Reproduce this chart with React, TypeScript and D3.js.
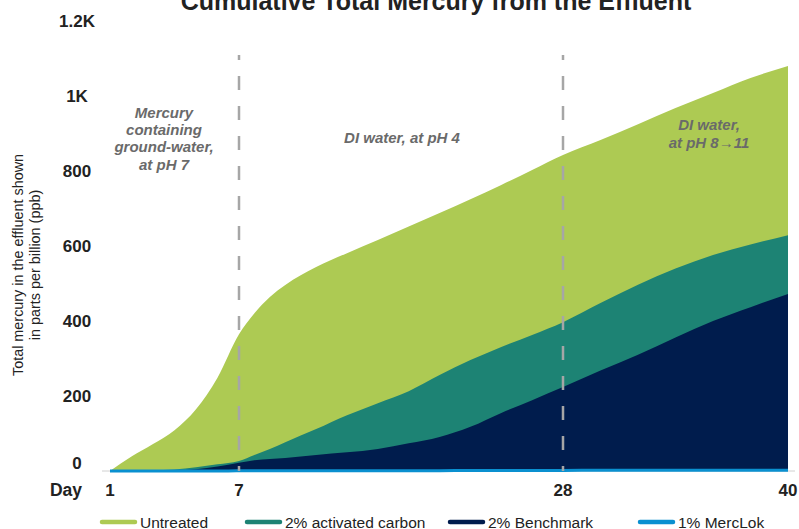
import React from "react";
import * as d3 from "d3";

const days = [1, 2, 3, 4, 5, 6, 7, 8, 9, 10, 12, 14, 16, 18, 20, 22, 24, 26, 28, 30, 32, 34, 36, 38, 40];
const untreated = [0, 39, 72, 109, 165, 249, 365, 421, 464, 496, 544, 581, 616, 652, 688, 725, 763, 803, 843, 883, 925, 968, 1008, 1048, 1080];
const activatedCarbon = [0, 1, 2, 4, 10, 18, 27, 43, 59, 77, 112, 149, 181, 213, 256, 296, 331, 363, 397, 448, 497, 540, 576, 604, 629];
const benchmark = [0, 0.5, 1, 2, 5, 12, 22, 29, 32, 35, 43, 50, 59, 74, 91, 118, 155, 189, 224, 268, 310, 356, 400, 437, 472];
const mercLok = [0, 0, 0, 0, 0, 0, 0.5, 0.5, 0.5, 1, 1, 1, 1, 1, 1, 1.5, 1.5, 1.5, 1.5, 2, 2, 2, 2, 2, 2];

const seriesNames = ["Untreated", "2% activated carbon", "2% Benchmark", "1% MercLok"];
const seriesColors = ["#adca53", "#1d8374", "#001c4d", "#0a90d0"];

const yTicks = [0, 200, 400, 600, 800, 1000, 1200];
const yTickLabels = ["0", "200", "400", "600", "800", "1K", "1.2K"];
const xTicks = [1, 7, 28, 40];
const phaseDays = [7, 28];

const FONT = "'Liberation Sans', Arial, sans-serif";

export default function App() {
  const W = 799, H = 529;
  const x = d3.scaleLinear().domain([1, 7, 28, 40]).range([110, 239, 563, 788]);
  const y = d3.scaleLinear().domain([0, 1200]).range([471, 21]);

  const area = (vals: number[]) =>
    d3.area<number>()
      .x((_, i) => x(days[i]))
      .y0(y(0))
      .y1((d) => y(d))
      .curve(d3.curveMonotoneX)(vals) as string;
  const line = d3.line<number>()
    .x((_, i) => x(days[i]))
    .y((d) => y(d))
    .curve(d3.curveMonotoneX);

  const areaSeries = [untreated, activatedCarbon, benchmark];
  const legendX = [100, 245, 448, 638];

  return (
    <svg width={W} height={H} style={{ position: "absolute", left: 0, top: 0, background: "#fff" }} fontFamily={FONT}>
      <text x={436} y={10} textAnchor="middle" fontSize={25} fontWeight="bold" fill="#222">
        Cumulative Total Mercury from the Effluent
      </text>

      {/* y axis title */}
      <g transform="translate(23,265) rotate(-90)">
        <text x={0} y={0} textAnchor="middle" fontSize={14.4} fill="#222">Total mercury in the effluent shown</text>
        <text x={0} y={17} textAnchor="middle" fontSize={14.4} fill="#222">in parts per billion (ppb)</text>
      </g>

      {/* y ticks */}
      {yTicks.map((t, i) => (
        <text key={t} x={77} y={Math.min(y(t), 463)} dy="0.36em" textAnchor="middle" fontSize={17} fontWeight="bold" fill="#222">
          {yTickLabels[i]}
        </text>
      ))}

      {/* axis base line */}
      <line x1={102} x2={795} y1={y(0)} y2={y(0)} stroke="#d0d0d0" strokeWidth={1} />

      {/* areas */}
      {areaSeries.map((vals, i) => (
        <path key={i} d={area(vals)} fill={seriesColors[i]} />
      ))}
      <path d={line(mercLok) as string} fill="none" stroke={seriesColors[3]} strokeWidth={3} />

      {/* phase dividers */}
      {phaseDays.map((d) => (
        <line key={d} x1={x(d)} x2={x(d)} y1={55} y2={y(0)} stroke="#a6a6a6" strokeWidth={2.5} strokeDasharray="14,16" strokeDashoffset={9} />
      ))}

      {/* annotations */}
      <g fontSize={15} fontWeight="bold" fontStyle="italic" fill="#6a6a6a" textAnchor="middle">
        <text x={164} y={118}>Mercury</text>
        <text x={164} y={135}>containing</text>
        <text x={164} y={152}>ground-water,</text>
        <text x={164} y={170}>at pH 7</text>
        <text x={402} y={143}>DI water, at pH 4</text>
        <text x={709} y={130}>DI water,</text>
        <text x={709} y={148}>at pH 8→11</text>
      </g>

      {/* x ticks */}
      <text x={82} y={496} textAnchor="end" fontSize={17.5} fontWeight="bold" fill="#222">Day</text>
      {xTicks.map((t) => (
        <text key={t} x={x(t)} y={496} textAnchor="middle" fontSize={17} fontWeight="bold" fill="#222">{t}</text>
      ))}

      {/* legend */}
      {seriesNames.map((n, i) => (
        <g key={n}>
          <line x1={legendX[i] + 2} x2={legendX[i] + 35} y1={522} y2={522} stroke={seriesColors[i]} strokeWidth={4.5} strokeLinecap="round" />
          <text x={legendX[i] + 40} y={528} fontSize={15.5} fill="#222">{n}</text>
        </g>
      ))}
    </svg>
  );
}
